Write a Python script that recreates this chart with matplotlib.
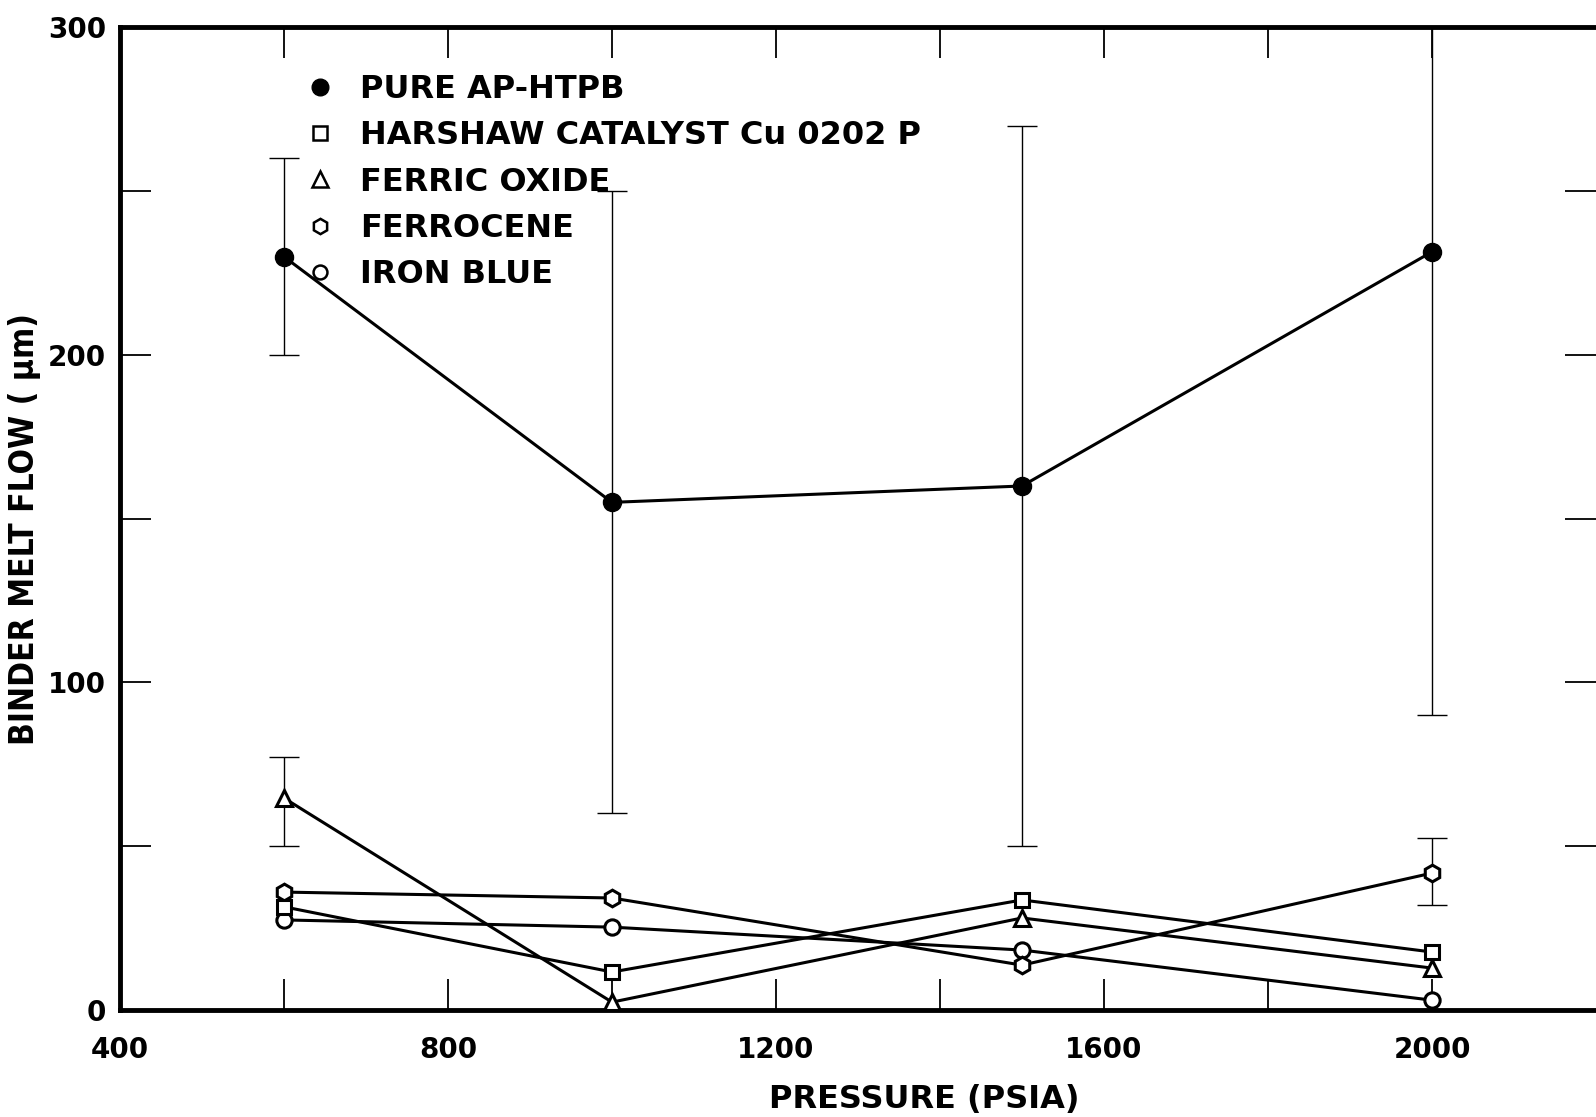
import matplotlib
matplotlib.use("Agg")
import matplotlib.pyplot as plt
from matplotlib.lines import Line2D

pressure = [600, 1000, 1500, 2000]

pure_ap_htpb = [230, 155, 160, 231.5]
pure_err_low = [200, 60, 50, 90]
pure_err_high = [260, 250, 270, 300]

harshaw = [31.5, 11.6, 33.6, 17.7]
ferric_oxide = [64.7, 2.4, 28.1, 12.8]
ferric_err_low = [50, None, None, None]
ferric_err_high = [77.4, None, None, None]
ferrocene = [36, 34.2, 13.7, 41.8]
ferrocene_err_low = [None, None, None, 32]
ferrocene_err_high = [None, None, None, 52.5]
iron_blue = [27.5, 25.3, 18.3, 3]

labels = ["PURE AP-HTPB", "HARSHAW CATALYST Cu 0202 P", "FERRIC OXIDE",
          "FERROCENE", "IRON BLUE"]

x_ticks = [400, 800, 1200, 1600, 2000]
y_ticks = [0, 100, 200, 300]

plt.rcParams['font.family'] = ['DejaVu Sans']
fig = plt.figure(figsize=(15.96, 11.17), dpi=100)
ax = fig.add_axes([0.0752, 0.0958, 0.9248, 0.8796])
ax.set_xlim(400, 2200)
ax.set_ylim(0, 300)

LW = 2.2
ax.plot(pressure, iron_blue, color='black', lw=LW, marker='o', ms=11,
        mfc='white', mec='black', mew=2.2, zorder=3)
ax.plot(pressure, ferrocene, color='black', lw=LW, marker='h', ms=12,
        mfc='white', mec='black', mew=2.2, zorder=3)
ax.plot(pressure, ferric_oxide, color='black', lw=LW, marker='^', ms=11,
        mfc='white', mec='black', mew=2.2, zorder=3)
ax.plot(pressure, harshaw, color='black', lw=LW, marker='s', ms=10,
        mfc='white', mec='black', mew=2.2, zorder=3)
ax.plot(pressure, pure_ap_htpb, color='black', lw=LW, marker='o', ms=13,
        mfc='black', mec='black', zorder=3)


def errbars(vals, lo, hi):
    for xv, v, l, h in zip(pressure, vals, lo, hi):
        if l is None:
            continue
        ax.errorbar([xv], [v], yerr=[[v - l], [h - v]], fmt='none',
                    ecolor='black', elinewidth=1.0, capsize=11,
                    capthick=1.0, zorder=2)


errbars(pure_ap_htpb, pure_err_low, pure_err_high)
errbars(ferric_oxide, ferric_err_low, ferric_err_high)
errbars(ferrocene, ferrocene_err_low, ferrocene_err_high)

# spines and ticks
for s in ['left', 'bottom', 'top']:
    ax.spines[s].set_linewidth(3.5)
ax.spines['right'].set_visible(False)

ax.set_xticks(x_ticks)
ax.set_xticks([600, 1000, 1400, 1800], minor=True)
ax.set_yticks(y_ticks)
ax.set_yticks([50, 150, 250], minor=True)
ax.tick_params(which='both', direction='in', length=22, width=1.3,
               top=True, right=True, colors='black')
ax.tick_params(axis='x', which='major', labelsize=20, pad=19)
ax.tick_params(axis='y', which='major', labelsize=20, pad=10)
for lab in ax.get_xticklabels() + ax.get_yticklabels():
    lab.set_fontweight('bold')

ax.set_xlabel("PRESSURE (PSIA)", fontsize=23, fontweight='bold',
              labelpad=14, x=0.545)
ax.set_ylabel("BINDER MELT FLOW ( μm)", fontsize=24, fontweight='bold',
              fontstretch='condensed', labelpad=5, y=0.49)

handles = [
    Line2D([], [], ls='none', marker='o', ms=12, mfc='black', mec='black'),
    Line2D([], [], ls='none', marker='s', ms=10, mfc='white', mec='black', mew=1.8),
    Line2D([], [], ls='none', marker='^', ms=11, mfc='white', mec='black', mew=1.8),
    Line2D([], [], ls='none', marker='h', ms=11, mfc='white', mec='black', mew=1.8),
    Line2D([], [], ls='none', marker='o', ms=10, mfc='white', mec='black', mew=1.8),
]
leg = ax.legend(handles, labels, loc='upper left', bbox_to_anchor=(0.105, 0.982),
                frameon=False, handlelength=1.0, handletextpad=0.75,
                labelspacing=0.48, prop={'size': 23, 'weight': 'bold'})

fig.savefig("out.png", dpi=100)
